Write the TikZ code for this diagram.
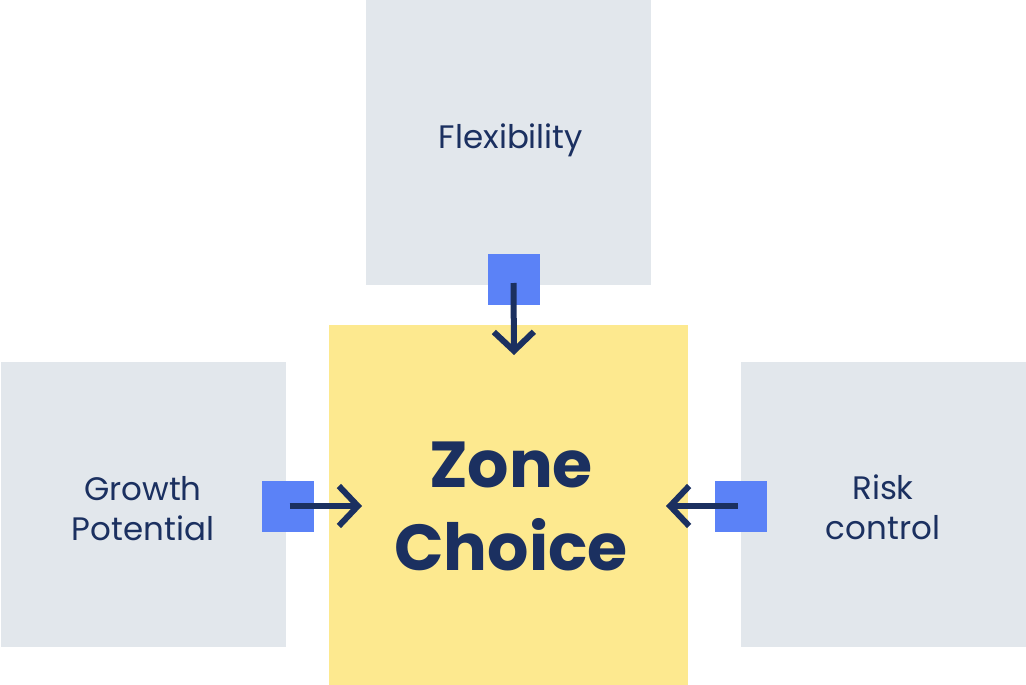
\documentclass[tikz,border=0pt]{standalone}
\usepackage{fontspec}
\setmainfont{Poppins}
\usetikzlibrary{arrows.meta}
\definecolor{grayfill}{HTML}{E2E7EC}
\definecolor{yellowfill}{HTML}{FDE98F}
\definecolor{bluesq}{HTML}{5B82F7}
\definecolor{navy}{HTML}{1B3060}
\tikzset{
  graybox/.style={fill=grayfill, draw=none, minimum width=285pt, minimum height=285pt, inner sep=0pt},
  yellowbox/.style={fill=yellowfill, draw=none, minimum width=359pt, minimum height=360pt, inner sep=0pt},
  port/.style={fill=bluesq, draw=none, minimum width=52pt, minimum height=51pt, inner sep=0pt},
  label/.style={text=navy, align=center, font=\fontsize{32.5}{40}\selectfont},
  biglabel/.style={text=navy, align=center, font=\fontsize{65}{83}\selectfont\bfseries},
  conn/.style={draw=navy, line width=6pt, -{Straight Barb[length=19pt,width=40pt,line width=6pt]}}
}
\begin{document}
\begin{tikzpicture}[x=1pt,y=-1pt]
\useasboundingbox (0,0) rectangle (1026,685);
\node[graybox] (top) at (508.5,142.5) {};
\node[graybox] (left) at (143,504.5) {};
\node[graybox] (right) at (883,504.5) {};
\node[yellowbox] (center) at (508.5,505) {};
\node[port] (ptop) at (513.5,279) {};
\node[port] (pleft) at (287.5,506) {};
\node[port] (pright) at (740.5,506) {};
\node[label] (tflex) at (511,140) {Flexibility};
\node[label] (tgrowth) at (143,509) {Growth\\Potential};
\node[label] (trisk) at (883,507) {Risk\\control};
\node[biglabel] (tzone) at (511,506) {Zone\\Choice};
\coordinate (atop) at (514,355);
\coordinate (aleft) at (362,506);
\coordinate (aright) at (666,506);
\draw[conn] (ptop.center) ++(0,4) -- (atop);
\draw[conn] (pleft.center) ++(2,0) -- (aleft);
\draw[conn] (pright.center) ++(-3,0) -- (aright);
\end{tikzpicture}
\end{document}
